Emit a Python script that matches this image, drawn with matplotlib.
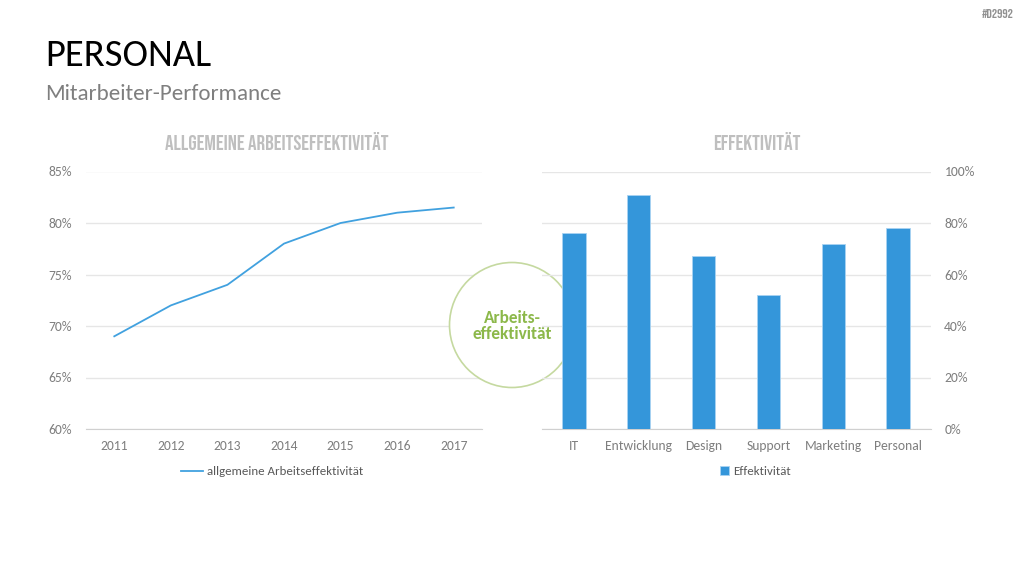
import matplotlib
matplotlib.use('Agg')
import matplotlib.pyplot as plt
from matplotlib.patches import Circle
from matplotlib.ticker import PercentFormatter

plt.rcParams['font.family'] = ['Carlito', 'DejaVu Sans']

# data
years = ['2011', '2012', '2013', '2014', '2015', '2016', '2017']
effectiveness_trend = [69, 72, 74, 78, 80, 81, 81.5]
departments = ['IT', 'Entwicklung', 'Design', 'Support', 'Marketing', 'Personal']
dept_effectiveness = [76, 91, 67, 52, 72, 78]

W, H = 1024, 576
fig = plt.figure(figsize=(W / 100, H / 100), dpi=100)
fig.patch.set_facecolor('white')

def box(x0, y0, x1, y1):
    # pixel box -> figure fraction
    return [x0 / W, 1 - y1 / H, (x1 - x0) / W, (y1 - y0) / H]

tick_col = '#7f7f7f'
grid_col = '#e6e6e6'
title_font = ['Bebas Neue', 'DejaVu Sans']

# header
fig.text(45 / W, 1 - 56 / H, 'PERSONAL', fontsize=27.7, color='black', va='center', ha='left')
fig.text(45 / W, 1 - 94 / H, 'Mitarbeiter-Performance', fontsize=16.6, color='#7f7f7f', va='center', ha='left')
fig.text(1014 / W, 1 - 14 / H, '#D2992', fontsize=9.5, color='#909090', va='center', ha='right',
         family=title_font)

# left: line chart
ax1 = fig.add_axes(box(86, 171.5, 482, 429))
ax1.plot(range(len(years)), effectiveness_trend, color='#41a1df', lw=1.3, label='allgemeine Arbeitseffektivität')
ax1.set_xlim(-0.5, len(years) - 0.5)
ax1.set_ylim(60, 85)
ax1.set_yticks(range(60, 86, 5))
ax1.yaxis.set_major_formatter(PercentFormatter(decimals=0))
ax1.set_xticks(range(len(years)))
ax1.set_xticklabels(years)
ax1.legend(loc='upper center', bbox_to_anchor=(0.47, -0.1), frameon=False, fontsize=9.3,
           labelcolor='#595959', handlelength=1.7, handletextpad=0.3)

# right: bar chart
ax2 = fig.add_axes(box(541.5, 171.5, 930.5, 429))
ax2.bar(range(len(departments)), dept_effectiveness, width=0.36, color='#3496da',
        edgecolor='#a9d3f2', linewidth=0.6, label='Effektivität', zorder=3)
ax2.set_xlim(-0.5, len(departments) - 0.5)
ax2.set_ylim(0, 100)
ax2.set_yticks(range(0, 101, 20))
ax2.yaxis.set_major_formatter(PercentFormatter(decimals=0))
ax2.yaxis.tick_right()
ax2.set_xticks(range(len(departments)))
ax2.set_xticklabels(departments)
ax2.legend(loc='upper center', bbox_to_anchor=(0.55, -0.1), frameon=False, fontsize=9.3,
           labelcolor='#595959', handlelength=0.7, handleheight=0.7, handletextpad=0.3)

for ax in (ax1, ax2):
    ax.set_facecolor('none')
    for s in ax.spines.values():
        s.set_visible(False)
    ax.spines['bottom'].set_visible(True)
    ax.spines['bottom'].set_color('#d0d0d0')
    ax.grid(axis='y', color=grid_col, lw=1, zorder=0)
    ax.set_axisbelow(True)
    ax.tick_params(length=0, labelsize=9.8, colors=tick_col, pad=8)
    ax.tick_params(axis='y', pad=10)

# chart titles
fig.text(277 / W, 1 - 141 / H, 'ALLGEMEINE ARBEITSEFFEKTIVITÄT', fontsize=15.3,
         color='#bfbfbf', ha='center', va='center', family=title_font)
fig.text(757 / W, 1 - 141 / H, 'EFFEKTIVITÄT', fontsize=15.4,
         color='#bfbfbf', ha='center', va='center', family=title_font)

# circle badge (white fill, hidden behind bars)
ax1.set_zorder(1)
ax2.set_zorder(3)
circ_ax = fig.add_axes([0, 0, 1, 1], zorder=2)
circ_ax.set_xlim(0, W)
circ_ax.set_ylim(H, 0)
circ_ax.axis('off')
circ_ax.patch.set_alpha(0)
circ_ax.add_patch(Circle((512, 325), 62.5, facecolor='white', edgecolor='#c5d9a0', lw=1.2))
circ_ax.text(512, 326, 'Arbeits-\neffektivität', fontsize=12.4, fontweight='bold', color='#8cb84a',
             ha='center', va='center', linespacing=1.0)

fig.savefig('out.png', dpi=100)
